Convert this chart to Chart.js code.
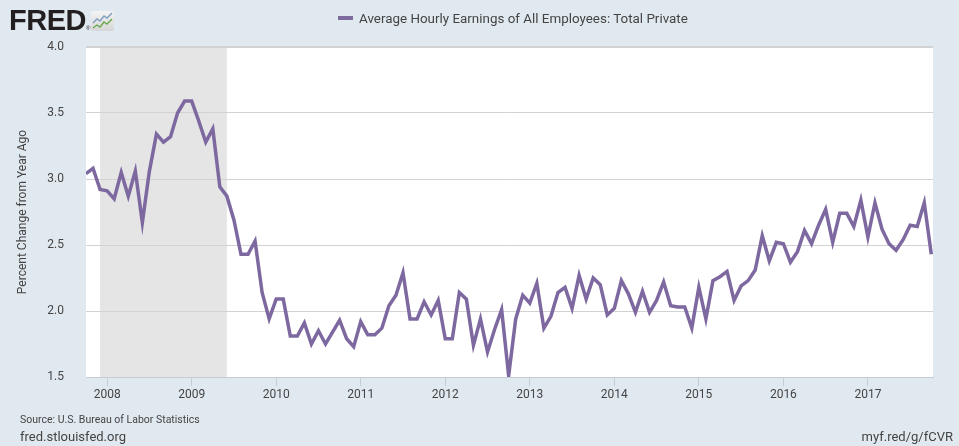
<!DOCTYPE html>
<html>
<head>
<meta charset="utf-8">
<script src="https://cdn.jsdelivr.net/npm/chart.js@4.4.1/dist/chart.umd.min.js"></script>
<style>
  html, body { margin:0; padding:0; }
  body { width:959px; height:446px; background:#e1e9f0; position:relative; overflow:hidden; font-family: Roboto, "Liberation Sans", sans-serif; }
  #c { position:absolute; left:0; top:0; }
  .logo { position:absolute; left:9px; top:4px; font-family:"Liberation Sans", Arial, sans-serif; font-weight:900; font-size:29px; letter-spacing:-0.5px; color:#231f20; }
  .logo sup { font-size:6px; font-weight:normal; letter-spacing:0; vertical-align:baseline; }
  .icon { position:absolute; left:91px; top:11px; }
  .legend { position:absolute; left:338px; top:11px; font-size:13.4px; color:#444; white-space:nowrap; }
  .legend .swatch { display:inline-block; width:15px; height:4px; background:#7e6a9e; vertical-align:middle; margin-right:6px; position:relative; top:-1px; }
  .src { position:absolute; left:20px; top:413px; font-size:10.5px; color:#444; }
  .site { position:absolute; left:20px; top:429px; font-size:13px; color:#444; }
  .short { position:absolute; right:6px; top:429px; font-size:13px; color:#444; }
</style>
</head>
<body>
<canvas id="c" width="959" height="446"></canvas>
<div class="logo">FRED<sup>®</sup></div>
<svg class="icon" width="23" height="20" viewBox="0 0 23 20">
  <defs><linearGradient id="g" x1="0" y1="0" x2="0" y2="1"><stop offset="0" stop-color="#f4f4f4"/><stop offset="1" stop-color="#d6d6d6"/></linearGradient></defs>
  <rect x="0" y="0" width="23" height="20" rx="2" fill="url(#g)"/>
  <polyline points="2,12 6,8 9,10 13,5 16,7 21,2" fill="none" stroke="#7f9fc0" stroke-width="1.4"/>
  <polyline points="2,17 6,14 9,16 13,11 16,13 21,8" fill="none" stroke="#6aa84f" stroke-width="1.4"/>
</svg>
<div class="legend"><span class="swatch"></span>Average Hourly Earnings of All Employees: Total Private</div>
<div class="src">Source: U.S. Bureau of Labor Statistics</div>
<div class="site">fred.stlouisfed.org</div>
<div class="short">myf.red/g/fCVR</div>
<script>
// Percent change from year ago, monthly, Oct 2007 .. Oct 2017
const seriesName = "Average Hourly Earnings of All Employees: Total Private";
const firstYear = 2007;
const firstMonth = 10; // October
const v2007 = [3.04, 3.08, 2.92];
const v2008 = [2.91, 2.85, 3.05, 2.87, 3.06, 2.67, 3.06, 3.34, 3.28, 3.32, 3.50, 3.59];
const v2009 = [3.59, 3.44, 3.28, 3.38, 2.94, 2.87, 2.69, 2.43, 2.43, 2.53, 2.14, 1.94];
const v2010 = [2.09, 2.09, 1.81, 1.81, 1.91, 1.75, 1.85, 1.75, 1.84, 1.93, 1.79, 1.73];
const v2011 = [1.92, 1.82, 1.82, 1.87, 2.04, 2.12, 2.29, 1.94, 1.94, 2.07, 1.97, 2.08];
const v2012 = [1.79, 1.79, 2.14, 2.09, 1.74, 1.94, 1.69, 1.86, 2.01, 1.51, 1.94, 2.12];
const v2013 = [2.06, 2.21, 1.87, 1.96, 2.14, 2.18, 2.02, 2.27, 2.09, 2.25, 2.20, 1.97];
const v2014 = [2.02, 2.23, 2.13, 1.99, 2.15, 1.99, 2.08, 2.22, 2.04, 2.03, 2.03, 1.87];
const v2015 = [2.18, 1.94, 2.23, 2.26, 2.30, 2.08, 2.19, 2.23, 2.31, 2.57, 2.38, 2.52];
const v2016 = [2.51, 2.37, 2.45, 2.61, 2.51, 2.65, 2.77, 2.52, 2.74, 2.74, 2.64, 2.84];
const v2017 = [2.56, 2.82, 2.62, 2.51, 2.46, 2.54, 2.65, 2.64, 2.82, 2.43];
const values = [].concat(v2007, v2008, v2009, v2010, v2011, v2012, v2013, v2014, v2015, v2016, v2017);

const yearTicks = [2008, 2009, 2010, 2011, 2012, 2013, 2014, 2015, 2016, 2017];
const yTicks = [1.5, 2.0, 2.5, 3.0, 3.5, 4.0];
const recessionStart = [2007 + 11/12]; // Dec 2007
const recessionEnd = [2009 + 5/12];    // Jun 2009

const points = values.map((v, i) => ({ x: firstYear + (firstMonth - 1 + i) / 12, y: v }));

const bgPlugin = {
  id: 'bg',
  beforeDraw(chart) {
    const { ctx, chartArea: a, scales } = chart;
    ctx.save();
    ctx.fillStyle = '#ffffff';
    ctx.fillRect(a.left, a.top, a.right - a.left, a.bottom - a.top);
    ctx.fillStyle = '#e5e5e5';
    for (let i = 0; i < recessionStart.length; i++) {
      const x0 = Math.max(a.left, scales.x.getPixelForValue(recessionStart[i]));
      const x1 = Math.min(a.right, scales.x.getPixelForValue(recessionEnd[i]));
      ctx.fillRect(x0, a.top, x1 - x0, a.bottom - a.top);
    }
    ctx.restore();
  }
};

new Chart(document.getElementById('c'), {
  type: 'line',
  data: {
    datasets: [{
      label: seriesName,
      data: points,
      borderColor: '#7d69a0',
      borderWidth: 3.5,
      pointRadius: 0,
      tension: 0,
      fill: false
    }]
  },
  options: {
    responsive: false,
    devicePixelRatio: 1,
    animation: false,
    layout: { padding: { top: 47, right: 26, bottom: 0, left: 0 } },
    plugins: { legend: { display: false }, tooltip: { enabled: false } },
    scales: {
      x: {
        type: 'linear',
        min: firstYear + (firstMonth - 1) / 12,
        max: 2017.77,
        afterBuildTicks: (s) => { s.ticks = yearTicks.map(v => ({ value: v })); },
        afterFit: (s) => { s.height = 69; },
        ticks: {
          callback: (v) => String(v),
          font: { family: 'Roboto', size: 12 },
          color: '#444',
          padding: 2,
          maxRotation: 0,
          autoSkip: false
        },
        grid: { drawOnChartArea: false, color: '#c3cdd8', tickLength: 9 },
        border: { color: '#c3cdd8' }
      },
      y: {
        min: 1.5,
        max: 4.0,
        afterBuildTicks: (s) => { s.ticks = yTicks.map(v => ({ value: v })); },
        afterFit: (s) => { s.width = 86; },
        ticks: {
          callback: (v) => Number(v).toFixed(1),
          font: { family: 'Roboto', size: 12 },
          color: '#444',
          padding: 22
        },
        grid: {
          drawTicks: false,
          color: (c) => c.tick && c.tick.value === 1.5 ? 'rgba(0,0,0,0)' : '#d2d2d2',
          lineWidth: (c) => c.tick && c.tick.value === 4.0 ? 2 : 1
        },
        border: { display: false },
        title: {
          display: true,
          text: 'Percent Change from Year Ago',
          font: { family: 'Roboto', size: 12 },
          color: '#444',
          padding: { top: 16, bottom: 0 }
        }
      }
    }
  },
  plugins: [bgPlugin]
});
</script>
</body>
</html>
